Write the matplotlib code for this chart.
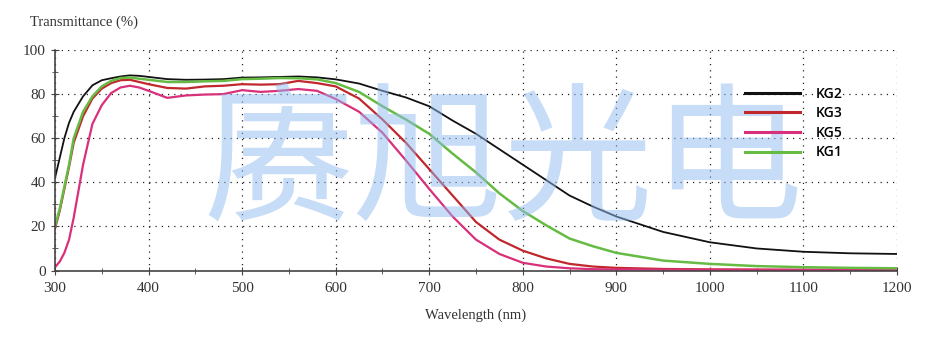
import matplotlib.pyplot as plt
from matplotlib.ticker import MultipleLocator

# Datos
longitud_onda = [300, 305, 310, 315, 320, 330, 340, 350, 360, 370, 380, 390, 400,
                 420, 440, 460, 480, 500, 520, 540, 560, 580, 600, 625, 650, 675,
                 700, 725, 750, 775, 800, 825, 850, 875, 900, 950, 1000, 1050,
                 1100, 1150, 1200]

kg2 = [42, 51, 60, 67, 72, 79, 84, 86.3, 87.2, 88, 88.5, 88.3, 87.8,
       86.8, 86.5, 86.6, 86.8, 87.5, 87.6, 87.8, 88, 87.6, 86.7, 84.8, 81.5, 78.5,
       74.5, 68, 62, 55, 48, 41, 34, 29, 24.5, 17.5, 12.8, 10,
       8.5, 7.8, 7.5]

kg3 = [19, 27, 37, 47, 58, 70, 78, 82.5, 85, 86.3, 86.5, 85.5, 84.5,
       82.8, 82.5, 83.5, 83.8, 84.5, 84.3, 84.5, 86, 85, 83.5, 78, 68.5, 58,
       46, 34, 22, 14, 9, 5.5, 3, 1.8, 1.2, 0.7, 0.5, 0.4,
       0.3, 0.3, 0.3]

kg5 = [1.5, 4, 8, 14, 24, 48, 66.5, 75, 80.5, 83, 83.8, 83, 81.5,
       78.3, 79.4, 79.8, 80, 81.8, 81, 81.5, 82.3, 81.5, 77.8, 72, 62.5, 50,
       37, 24.5, 14, 7.5, 3.5, 1.8, 1, 0.6, 0.5, 0.4, 0.3, 0.3,
       0.3, 0.3, 0.3]

kg1 = [20, 28, 38, 48, 60, 72, 79, 83.5, 86, 87.3, 87.5, 87, 86.5,
       85.5, 85.5, 85.8, 86, 86.8, 87, 87.3, 87.2, 86.7, 85, 81, 74.5, 68.5,
       62, 53, 44.5, 35, 27, 20.5, 14.5, 11, 8, 4.5, 3, 2,
       1.5, 1.2, 1]

series = [("KG2", kg2, "#111111", 1.3),
          ("KG3", kg3, "#c0282d", 1.6),
          ("KG5", kg5, "#d8307a", 1.6),
          ("KG1", kg1, "#66bb44", 1.8)]

fuente_serif = "Liberation Serif"

fig = plt.figure(figsize=(9.42, 3.53), dpi=100)
ax = fig.add_axes([0.0584, 0.2337, 0.8938, 0.6246])

for nombre, valores, color, ancho in series:
    ax.plot(longitud_onda, valores, color=color, lw=ancho, label=nombre, zorder=2)

# Marca de agua (semitransparente, encima de las curvas)
ax.text(0.533, 0.47, "赓旭光电", transform=ax.transAxes, fontsize=108,
        family=["Noto Sans CJK SC", "DejaVu Sans"], color="#91bbf1", alpha=0.5,
        ha="center", va="center", zorder=3)

ax.set_xlim(300, 1200)
ax.set_ylim(0, 100)
ax.xaxis.set_major_locator(MultipleLocator(100))
ax.xaxis.set_minor_locator(MultipleLocator(50))
ax.yaxis.set_major_locator(MultipleLocator(20))
ax.yaxis.set_minor_locator(MultipleLocator(10))
ax.grid(True, which="major", linestyle=(0, (1, 4)), color="#222222", lw=0.9)

for lado in ["top", "right"]:
    ax.spines[lado].set_visible(False)
for lado in ["left", "bottom"]:
    ax.spines[lado].set_color("#444444")
    ax.spines[lado].set_linewidth(1.2)

ax.tick_params(which="both", direction="inout", color="#444444", labelcolor="#333333")
ax.tick_params(which="major", length=6, labelsize=11)
ax.tick_params(axis="x", which="major", pad=5)
ax.tick_params(which="minor", length=5)
for etiqueta in ax.get_xticklabels() + ax.get_yticklabels():
    etiqueta.set_family(fuente_serif)

fig.text(0.032, 0.938, "Transmittance (%)", family=fuente_serif, fontsize=10.5,
         color="#333333", ha="left", va="center")
fig.text(0.505, 0.106, "Wavelength (nm)", family=fuente_serif, fontsize=10.5,
         color="#333333", ha="center", va="center")

leyenda = ax.legend(loc="upper left", bbox_to_anchor=(0.811, 0.865), frameon=False,
                    prop={"family": "Open Sans", "size": 10, "weight": "semibold"},
                    handlelength=4.0, handletextpad=1.1, labelspacing=0.4, borderpad=0)
for linea in leyenda.get_lines():
    linea.set_linewidth(2.2)

plt.savefig("out.png", dpi=100)
